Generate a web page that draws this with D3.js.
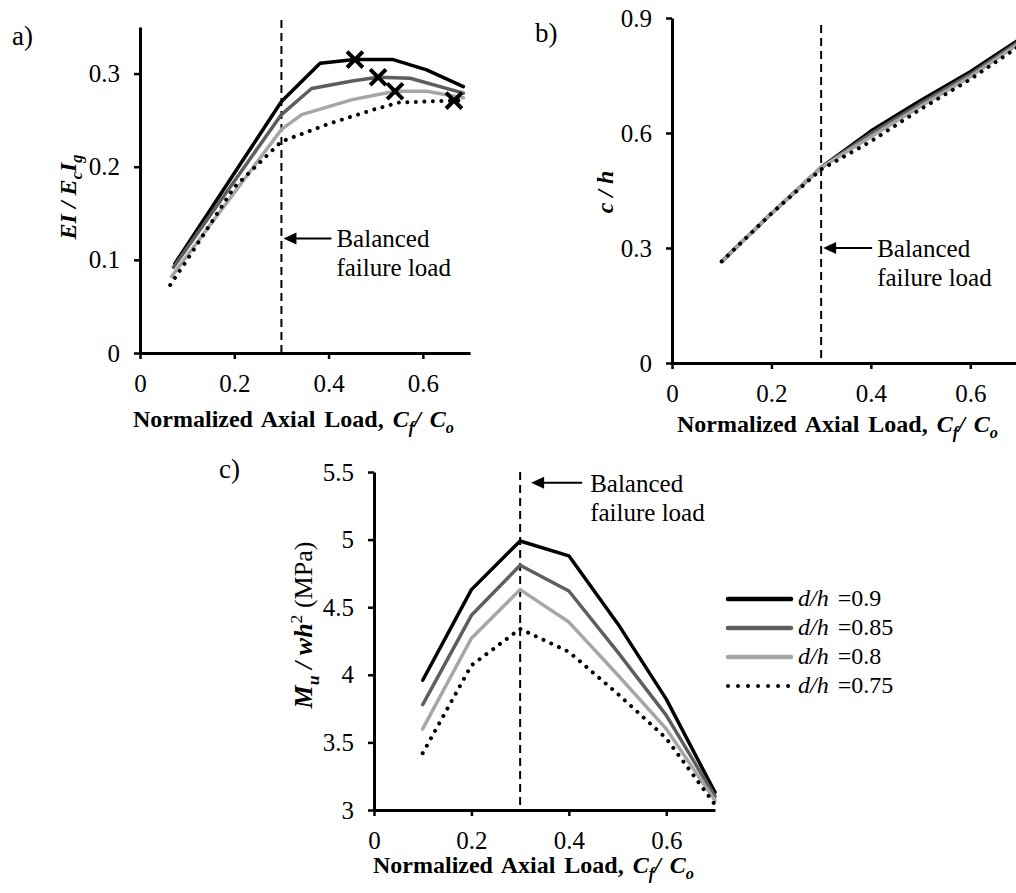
<!DOCTYPE html>
<html>
<head>
<meta charset="utf-8">
<script src="https://cdn.jsdelivr.net/npm/d3@7"></script>
<style>
  body { margin: 0; background: #fff; }
  .axis .domain { stroke: #000; stroke-width: 3; }
  .axis .tick line { stroke: #000; stroke-width: 2.5; }
  .axis .tick text { fill: #000; }
</style>
</head>
<body>
<svg id="chart" width="1016" height="893"></svg>
<script>
// d/h values for the four series
const dhLabels = ["0.9", "0.85", "0.8", "0.75"];
const xTicks = [0, 0.2, 0.4, 0.6];

// a) EI / EcIg -- every series has its own Cf/Co points
const eiX = [
  [0.074, 0.30, 0.382, 0.456, 0.537, 0.608, 0.686],
  [0.071, 0.30, 0.364, 0.45, 0.505, 0.573, 0.686],
  [0.067, 0.30, 0.343, 0.45, 0.541, 0.608, 0.686],
  [0.064, 0.10, 0.20, 0.30, 0.40, 0.50, 0.55, 0.666, 0.689]
];
const eiY = [
  [0.096, 0.270, 0.311, 0.315, 0.315, 0.304, 0.286],
  [0.092, 0.256, 0.284, 0.292, 0.296, 0.295, 0.279],
  [0.082, 0.240, 0.256, 0.272, 0.281, 0.281, 0.274],
  [0.073, 0.100, 0.178, 0.227, 0.246, 0.262, 0.269, 0.271, 0.271]
];
// failure points (x markers)
const failX = [0.456, 0.505, 0.541, 0.666];
const failY = [0.315, 0.296, 0.281, 0.271];

// b) c / h and c) Mu / wh2 share the same loads
const loadX = [0.1, 0.2, 0.3, 0.4, 0.5, 0.6, 0.7];
const chY = [
  [0.265, 0.39, 0.51, 0.605, 0.685, 0.76, 0.845],
  [0.265, 0.39, 0.51, 0.598, 0.677, 0.753, 0.84],
  [0.265, 0.39, 0.51, 0.59, 0.670, 0.747, 0.835],
  [0.265, 0.39, 0.505, 0.578, 0.662, 0.74, 0.828]
];
const muY = [
  [3.96, 4.63, 4.99, 4.88, 4.38, 3.82, 3.13],
  [3.78, 4.44, 4.81, 4.62, 4.17, 3.70, 3.10],
  [3.60, 4.27, 4.63, 4.39, 4.00, 3.60, 3.07],
  [3.42, 4.07, 4.34, 4.17, 3.86, 3.53, 3.04]
];

const colors = ["#000000", "#5e5e5e", "#a6a6a6", "#000000"];
const widths = [3.5, 3.5, 3.5, 4];
const dashes = [null, null, null, "0.01 8.5"];
const serif = "'Liberation Serif', Tinos, serif";

const svg = d3.select("#chart");
svg.append("rect").attr("width", 1016).attr("height", 893).attr("fill", "#fff");

// text made of parts (italic / sub / sup)
function rich(text, parts, size) {
  let shift = 0;
  parts.forEach(p => {
    const ts = text.append("tspan").text(p.t);
    let s = 0;
    if (p.it) ts.attr("font-style", "italic");
    if (p.reg) ts.attr("font-weight", "normal");
    if (p.sub) { s = size * 0.25; ts.attr("font-size", size * 0.68); }
    if (p.sup) { s = -size * 0.38; ts.attr("font-size", size * 0.68); }
    if (s !== shift) ts.attr("dy", s - shift);
    shift = s;
  });
}

const xTitle = [
  { t: "Normalized Axial Load, " },
  { t: "C", it: 1 }, { t: "f", it: 1, sub: 1 },
  { t: "/ ", it: 1 },
  { t: "C", it: 1 }, { t: "o", it: 1, sub: 1 }
];

function drawPanel(p) {
  const x = d3.scaleLinear().domain([0, 0.7]).range([p.left, p.right]);
  const y = d3.scaleLinear().domain(p.yDomain).range([p.bottom, p.top]);
  const g = svg.append("g");

  // balanced failure load line
  g.append("line")
    .attr("x1", x(0.3)).attr("x2", x(0.3))
    .attr("y1", y(p.dashTop)).attr("y2", p.bottom)
    .attr("stroke", "#000").attr("stroke-width", 2)
    .attr("stroke-dasharray", "8,5");

  const line = d3.line().x(d => x(d[0])).y(d => y(d[1]));
  p.xs.forEach((xs, i) => {
    const pts = xs.map((v, j) => [v, p.ys[i][j]]);
    g.append("path")
      .datum(pts)
      .attr("d", line)
      .attr("fill", "none")
      .attr("stroke", colors[i])
      .attr("stroke-width", widths[i])
      .attr("stroke-linecap", "round")
      .attr("stroke-linejoin", "round")
      .attr("stroke-dasharray", dashes[i]);
  });

  if (p.marks) {
    g.selectAll(".mark")
      .data(failX.map((v, i) => [v, failY[i]]))
      .join("path")
      .attr("transform", d => "translate(" + x(d[0]) + "," + y(d[1]) + ")")
      .attr("d", d3.symbol().type(d3.symbolTimes).size(165))
      .attr("fill", "none")
      .attr("stroke", "#000")
      .attr("stroke-width", 4);
  }

  // axes
  g.append("g")
    .attr("class", "axis")
    .attr("transform", "translate(0," + p.bottom + ")")
    .call(d3.axisBottom(x).tickValues(xTicks).tickSize(6).tickSizeOuter(0)
      .tickPadding(15).tickFormat(d => String(d)))
    .attr("font-family", serif).attr("font-size", 25);
  g.append("g")
    .attr("class", "axis")
    .attr("transform", "translate(" + p.left + ",0)")
    .call(d3.axisLeft(y).tickValues(p.yTicks).tickSize(6).tickSizeOuter(0)
      .tickPadding(14).tickFormat(d => String(d)))
    .attr("font-family", serif).attr("font-size", 25);

  // arrow + note
  const ax = x(0.3) + p.tipGap;
  const ay = y(p.arrowY);
  const aEnd = x(0.3) + p.arrowLen;
  g.append("line")
    .attr("x1", ax + 8).attr("x2", aEnd)
    .attr("y1", ay).attr("y2", ay)
    .attr("stroke", "#000").attr("stroke-width", 2);
  g.append("path")
    .attr("d", "M" + ax + "," + ay + "L" + (ax + 13) + "," + (ay - 6) + "L" + (ax + 13) + "," + (ay + 6) + "Z")
    .attr("fill", "#000");
  g.append("text").attr("x", aEnd + p.textGap).attr("y", ay + 9)
    .attr("font-family", serif).attr("font-size", 25).text("Balanced");
  g.append("text").attr("x", aEnd + p.textGap).attr("y", ay + 38)
    .attr("font-family", serif).attr("font-size", 25).text("failure load");

  // titles
  const xt = g.append("text")
    .attr("x", p.xTitleX).attr("y", p.xTitleY)
    .attr("font-family", serif)
    .attr("font-size", 24).attr("font-weight", "bold")
    .attr("word-spacing", 3);
  rich(xt, xTitle, 24);

  const yt = g.append("text")
    .attr("transform", "translate(" + p.yTitleX + "," + p.yTitleMid + ") rotate(-90)")
    .attr("text-anchor", "middle")
    .attr("font-family", serif)
    .attr("font-size", p.yTitleSize).attr("font-weight", "bold");
  rich(yt, p.yTitle, p.yTitleSize);

  g.append("text").attr("x", p.tagX).attr("y", p.tagY)
    .attr("font-family", serif).attr("font-size", 27).text(p.tag);
}

drawPanel({
  tag: "a)", tagX: 12, tagY: 45,
  left: 140, right: 470, top: 27, bottom: 353,
  yDomain: [0, 0.35], yTicks: [0, 0.1, 0.2, 0.3],
  xs: eiX, ys: eiY, marks: true,
  dashTop: 0.3575, arrowY: 0.123, tipGap: 2, arrowLen: 50, textGap: 5,
  xTitleX: 133, xTitleY: 427,
  yTitleX: 76, yTitleMid: 197, yTitleSize: 24,
  yTitle: [{ t: "EI / E", it: 1 }, { t: "c", it: 1, sub: 1 }, { t: "I", it: 1 }, { t: "g", it: 1, sub: 1 }]
});

drawPanel({
  tag: "b)", tagX: 535, tagY: 42,
  left: 672, right: 1020, top: 18, bottom: 363,
  yDomain: [0, 0.9], yTicks: [0, 0.3, 0.6, 0.9],
  xs: chY.map(() => loadX), ys: chY, marks: false,
  dashTop: 0.882, arrowY: 0.3, tipGap: 2, arrowLen: 51, textGap: 5,
  xTitleX: 677, xTitleY: 432,
  yTitleX: 613, yTitleMid: 192, yTitleSize: 24,
  yTitle: [{ t: "c / h", it: 1 }]
});

drawPanel({
  tag: "c)", tagX: 219, tagY: 478,
  left: 374, right: 715, top: 472, bottom: 810,
  yDomain: [3, 5.5], yTicks: [3, 3.5, 4, 4.5, 5, 5.5],
  xs: muY.map(() => loadX), ys: muY, marks: false,
  dashTop: 5.5, arrowY: 5.42, tipGap: 11, arrowLen: 62, textGap: 8,
  xTitleX: 373, xTitleY: 873,
  yTitleX: 312, yTitleMid: 625, yTitleSize: 26,
  yTitle: [{ t: "M", it: 1 }, { t: "u", it: 1, sub: 1 }, { t: " / ", it: 1 }, { t: "wh", it: 1 },
           { t: "2", sup: 1, reg: 1 }, { t: " (MPa)", reg: 1 }]
});

// legend
const legend = svg.append("g");
dhLabels.forEach((lab, i) => {
  const ly = 599 + i * 29;
  legend.append("line")
    .attr("x1", 728).attr("x2", 791).attr("y1", ly).attr("y2", ly)
    .attr("stroke", colors[i]).attr("stroke-width", i === 3 ? 4 : 4.5)
    .attr("stroke-linecap", "round")
    .attr("stroke-dasharray", i === 3 ? "0.01 10" : null);
  const t = legend.append("text").attr("x", 798).attr("y", ly + 7)
    .attr("font-family", serif).attr("font-size", 24).attr("word-spacing", 3);
  t.append("tspan").attr("font-style", "italic").text("d/h");
  t.append("tspan").text(" =" + lab);
});
</script>
</body>
</html>
